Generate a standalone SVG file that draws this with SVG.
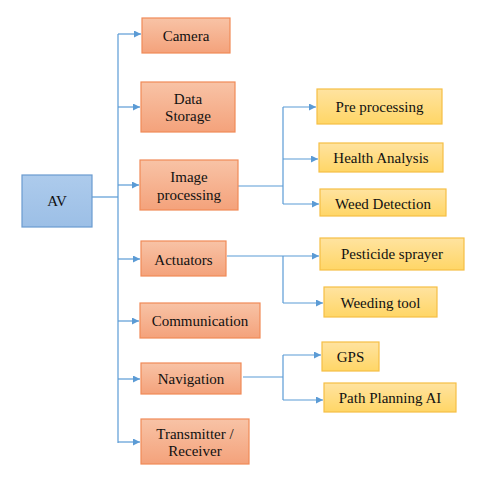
<svg xmlns="http://www.w3.org/2000/svg" width="484" height="485" viewBox="0 0 484 485">
<style>
.t{font-family:'Liberation Serif','Times New Roman',Tinos,'DejaVu Serif',serif;font-size:15px;fill:#111;text-anchor:middle}
.blue{fill:url(#gb);stroke:#6A9BD0;stroke-width:1.2}
.or{fill:url(#go);stroke:#F08A58;stroke-width:1.2}
.ye{fill:url(#gy);stroke:#F5BF45;stroke-width:1.2}
.c{fill:none;stroke:#5B9BD5;stroke-width:1.2}
.a{fill:none;stroke:#5B9BD5;stroke-width:1.2;marker-end:url(#ar)}
</style>
<defs>
<linearGradient id="gb" x1="0" y1="0" x2="0" y2="1"><stop offset="0" stop-color="#ADCBEC"/><stop offset="1" stop-color="#9CBFE6"/></linearGradient>
<linearGradient id="go" x1="0" y1="0" x2="0" y2="1"><stop offset="0" stop-color="#F8C3A6"/><stop offset="1" stop-color="#F4A27B"/></linearGradient>
<linearGradient id="gy" x1="0" y1="0" x2="0" y2="1"><stop offset="0" stop-color="#FFE3A0"/><stop offset="1" stop-color="#FFD666"/></linearGradient>
<marker id="ar" viewBox="0 0 10 10" refX="10" refY="5" markerWidth="8" markerHeight="7" markerUnits="userSpaceOnUse" orient="auto"><path d="M0,0 L10,5 L0,10 Z" fill="#5B9BD5"/></marker>
</defs>
<g id="connectors">
<path class="c" d="M92,197 H118"/>
<path class="c" d="M118,34 V443"/>
<path class="a" d="M118,34 H141"/>
<path class="a" d="M118,107 H140"/>
<path class="a" d="M118,185 H139"/>
<path class="a" d="M118,259 H140"/>
<path class="a" d="M118,321 H139"/>
<path class="a" d="M118,379 H140"/>
<path class="a" d="M118,442 H140"/>
<path class="c" d="M223,186 H283"/>
<path class="c" d="M283,107 V204"/>
<path class="a" d="M283,107 H316"/>
<path class="a" d="M283,159 H318"/>
<path class="a" d="M283,204 H319"/>
<path class="a" d="M227,256 H319"/>
<path class="c" d="M283,256 V303"/>
<path class="a" d="M283,303 H323"/>
<path class="c" d="M243,377 H283"/>
<path class="c" d="M283,355 V400"/>
<path class="a" d="M283,355 H321"/>
<path class="a" d="M283,400 H323"/>
</g>
<g id="av"><rect class="blue" x="22" y="175" width="70" height="52"/><text class="t" x="57" y="206">AV</text></g>
<g id="camera"><rect class="or" x="142" y="18" width="88" height="35"/><text class="t" x="186" y="41">Camera</text></g>
<g id="data-storage"><rect class="or" x="141" y="82" width="94" height="50"/><text class="t" x="188" y="104">Data</text><text class="t" x="188" y="121">Storage</text></g>
<g id="image-processing"><rect class="or" x="140" y="160" width="98" height="50"/><text class="t" x="189" y="182">Image</text><text class="t" x="189" y="200">processing</text></g>
<g id="actuators"><rect class="or" x="141" y="241" width="85" height="35"/><text class="t" x="183.5" y="265">Actuators</text></g>
<g id="communication"><rect class="or" x="140" y="303" width="120" height="35"/><text class="t" x="200" y="326">Communication</text></g>
<g id="navigation"><rect class="or" x="141" y="363" width="100" height="31"/><text class="t" x="191" y="384">Navigation</text></g>
<g id="transmitter"><rect class="or" x="141" y="419" width="108" height="45"/><text class="t" x="195" y="439">Transmitter /</text><text class="t" x="195" y="456">Receiver</text></g>
<g id="pre-processing"><rect class="ye" x="317" y="89" width="125" height="35"/><text class="t" x="379.5" y="112">Pre processing</text></g>
<g id="health-analysis"><rect class="ye" x="319" y="143" width="124" height="29"/><text class="t" x="381" y="163">Health Analysis</text></g>
<g id="weed-detection"><rect class="ye" x="320" y="189" width="126" height="27"/><text class="t" x="383" y="209">Weed Detection</text></g>
<g id="pesticide-sprayer"><rect class="ye" x="320" y="238" width="144" height="32"/><text class="t" x="392" y="259">Pesticide sprayer</text></g>
<g id="weeding-tool"><rect class="ye" x="324" y="287" width="113" height="30"/><text class="t" x="380.5" y="308">Weeding tool</text></g>
<g id="gps"><rect class="ye" x="322" y="342" width="57" height="29"/><text class="t" x="350.5" y="362">GPS</text></g>
<g id="path-planning"><rect class="ye" x="324" y="383" width="132" height="29"/><text class="t" x="390" y="403">Path Planning AI</text></g>
</svg>
